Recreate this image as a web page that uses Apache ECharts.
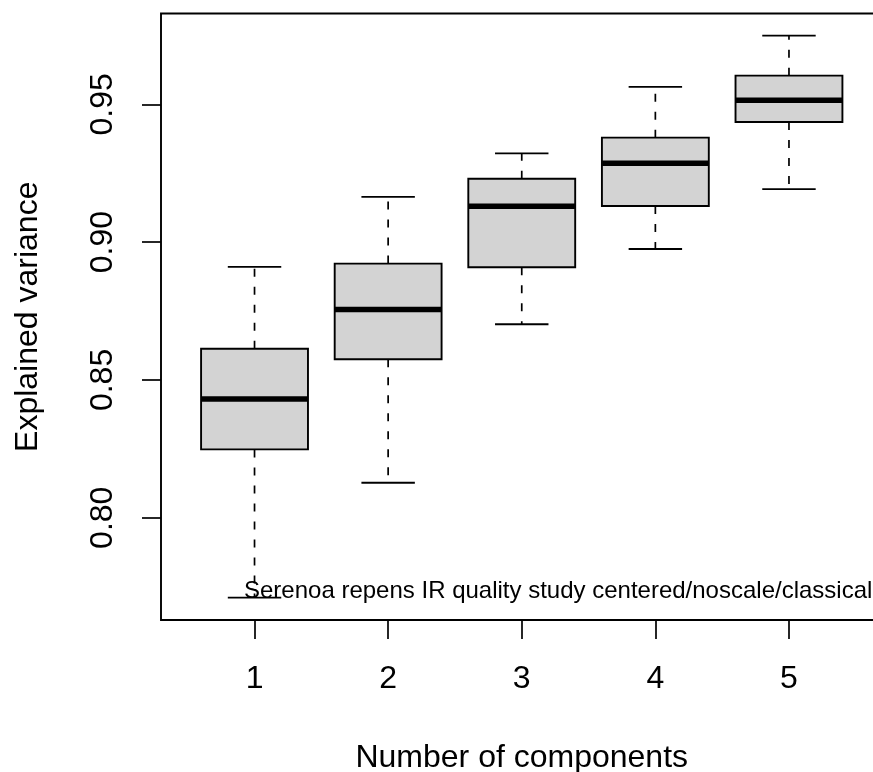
<!DOCTYPE html>
<html>
<head>
<meta charset="utf-8">
<script src="https://cdn.jsdelivr.net/npm/echarts@6/dist/echarts.min.js"></script>
<style>
	html, body { margin: 0; padding: 0; background: #fff; }
	#chart { width: 873px; height: 772px; }
</style>
</head>
<body>
<div id="chart"></div>
<script>
// five-number summaries, one entry per number of components
var components = [1, 2, 3, 4, 5];
var whiskerLow = [0.7710, 0.8127, 0.8702, 0.8975, 0.9192];
var lowerQuartile = [0.8248, 0.8575, 0.8909, 0.9131, 0.9436];
var medians = [0.8431, 0.8756, 0.9130, 0.9286, 0.9515];
var upperQuartile = [0.8613, 0.8922, 0.9230, 0.9379, 0.9604];
var whiskerHigh = [0.8910, 0.9164, 0.9322, 0.9563, 0.9749];
var yTicks = [0.80, 0.85, 0.90, 0.95];
var yLabels = ['0.80', '0.85', '0.90', '0.95'];
var note = 'Serenoa repens IR quality study centered/noscale/classical';

var font = 'Liberation Sans, Arial, Helvetica, sans-serif';

var boxData = components.map(function (c, i) {
	return [c, whiskerLow[i], lowerQuartile[i], medians[i], upperQuartile[i], whiskerHigh[i]];
});

/**
 * draw one R-style box: dashed whiskers, solid caps, grey box, thick median
 */
var renderBox = function (params, api) {
	var x = api.value(0);
	var lo = api.coord([x, api.value(1)]);
	var q1 = api.coord([x, api.value(2)]);
	var md = api.coord([x, api.value(3)]);
	var q3 = api.coord([x, api.value(4)]);
	var hi = api.coord([x, api.value(5)]);
	var boxW = api.size([0.8, 0])[0];
	var capW = boxW / 2;
	var cx = md[0];
	var solid = { stroke: '#000', lineWidth: 1.8 };
	var dashed = { stroke: '#000', lineWidth: 1.7, lineDash: [8, 10] };
	return {
		type: 'group',
		children: [
			{ type: 'line', shape: { x1: cx, y1: q3[1], x2: cx, y2: hi[1] }, style: dashed },
			{ type: 'line', shape: { x1: cx, y1: q1[1], x2: cx, y2: lo[1] }, style: dashed },
			{ type: 'line', shape: { x1: cx - capW / 2, y1: hi[1], x2: cx + capW / 2, y2: hi[1] }, style: solid },
			{ type: 'line', shape: { x1: cx - capW / 2, y1: lo[1], x2: cx + capW / 2, y2: lo[1] }, style: solid },
			{
				type: 'rect',
				shape: { x: cx - boxW / 2, y: q3[1], width: boxW, height: q1[1] - q3[1] },
				style: { fill: '#d3d3d3', stroke: '#000', lineWidth: 1.9 }
			},
			{ type: 'line', shape: { x1: cx - boxW / 2, y1: md[1], x2: cx + boxW / 2, y2: md[1] }, style: { stroke: '#000', lineWidth: 5.5 } }
		]
	};
};

var chart = echarts.init(document.getElementById('chart'), null, { renderer: 'canvas' });

chart.setOption({
	backgroundColor: '#fff',
	animation: false,
	textStyle: { fontFamily: font },
	grid: {
		left: 161,
		top: 13.5,
		width: 721.5,
		height: 606.5,
		outerBoundsMode: 'none',
		containLabel: false,
		show: true,
		borderColor: '#000',
		borderWidth: 1.9,
		backgroundColor: 'transparent'
	},
	xAxis: {
		type: 'value',
		min: 0.3,
		max: 5.7,
		name: 'Number of components',
		nameLocation: 'middle',
		nameGap: 122.5,
		nameTextStyle: { fontSize: 32, color: '#000', fontFamily: font },
		axisLine: { show: false },
		splitLine: { show: false },
		axisTick: { show: true, length: 19, customValues: components, lineStyle: { color: '#000', width: 1.7 } },
		axisLabel: {
			customValues: components,
			margin: 43,
			fontSize: 32,
			color: '#000',
			fontFamily: font
		}
	},
	yAxis: {
		type: 'value',
		min: 0.7629,
		max: 0.98295,
		name: 'Explained variance',
		nameLocation: 'middle',
		nameGap: 116.5,
		nameTextStyle: { fontSize: 32, color: '#000', fontFamily: font },
		axisLine: { show: false },
		splitLine: { show: false },
		axisTick: { show: true, length: 19, customValues: yTicks, lineStyle: { color: '#000', width: 1.7 } },
		axisLabel: {
			customValues: yTicks,
			rotate: 90,
			margin: 42,
			fontSize: 32,
			color: '#000',
			fontFamily: font,
			formatter: function (v) {
				var i = yTicks.indexOf(v);
				return i >= 0 ? yLabels[i] : v.toFixed(2);
			}
		}
	},
	graphic: [
		{
			type: 'text',
			left: 244,
			top: 579,
			style: { text: note, font: '24px ' + font, fill: '#000' }
		}
	],
	series: [
		{
			type: 'custom',
			renderItem: renderBox,
			encode: { x: 0, y: [1, 2, 3, 4, 5] },
			data: boxData,
			z: 2
		}
	]
});
</script>
</body>
</html>
